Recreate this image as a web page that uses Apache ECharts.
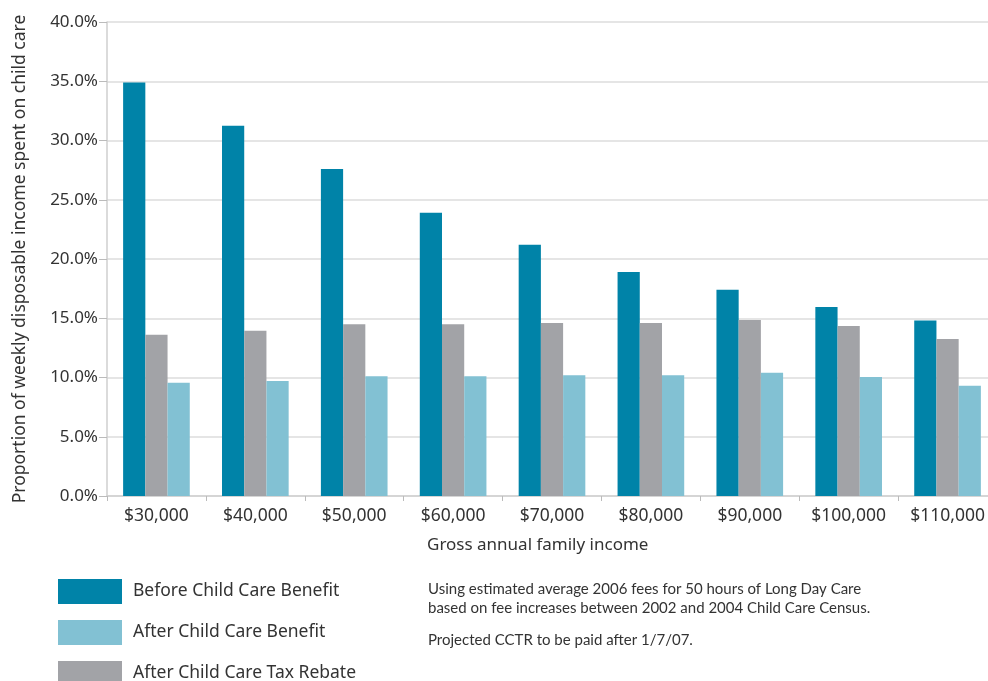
<!DOCTYPE html>
<html>
<head>
<meta charset="utf-8">
<script src="https://cdn.jsdelivr.net/npm/echarts@6/dist/echarts.min.js"></script>
<style>
  html, body { margin: 0; padding: 0; background: #fff; }
  #chart { width: 988px; height: 681px; }
</style>
</head>
<body>
<div id="chart"></div>
<script>
// Gross annual family income bands
var categories = ['$30,000', '$40,000', '$50,000', '$60,000', '$70,000', '$80,000', '$90,000', '$100,000', '$110,000'];

// Share of weekly disposable income spent on child care (%)
var beforeBenefit = [34.9, 31.25, 27.6, 23.9, 21.2, 18.9, 17.4, 15.95, 14.8];
var afterTaxRebate = [13.6, 13.95, 14.5, 14.5, 14.6, 14.6, 14.85, 14.35, 13.25];
var afterBenefit = [9.55, 9.7, 10.1, 10.1, 10.2, 10.2, 10.4, 10.05, 9.3];

var seriesNames = ['Before Child Care Benefit', 'After Child Care Tax Rebate', 'After Child Care Benefit'];
var legendOrder = ['Before Child Care Benefit', 'After Child Care Benefit', 'After Child Care Tax Rebate'];

var notes = [
  'Using estimated average 2006 fees for 50 hours of Long Day Care',
  'based on fee increases between 2002 and 2004 Child Care Census.'
];
var footnote = 'Projected CCTR to be paid after 1/7/07.';

var FONT = '"Noto Sans", sans-serif';
var NOTE_FONT = 'Lato, "Noto Sans", sans-serif';
var TEXT = '#333';

var chart = echarts.init(document.getElementById('chart'));

chart.setOption({
  animation: false,
  color: ['#0083a8', '#a2a3a7', '#82c1d3'],
  textStyle: { fontFamily: FONT },
  // plot area runs a little past the right edge of the canvas
  grid: { left: 107, width: 890, top: 22, height: 474, containLabel: false, outerBoundsMode: 'none' },
  legend: {
    data: legendOrder,
    orient: 'vertical',
    left: 58,
    top: 579,
    height: 160,
    padding: 0,
    itemWidth: 64,
    itemHeight: 25,
    itemGap: 16,
    icon: 'rect',
    textStyle: { fontFamily: FONT, fontSize: 17.5, color: TEXT, padding: [0, 0, 0, 6] }
  },
  xAxis: {
    type: 'category',
    data: categories,
    axisLine: { lineStyle: { color: '#cfcfcf', width: 1.5 } },
    axisTick: { show: true, length: 5, alignWithLabel: false, lineStyle: { color: '#bbb' } },
    axisLabel: { fontFamily: FONT, fontSize: 17.5, color: TEXT, margin: 11 }
  },
  yAxis: {
    type: 'value',
    min: 0,
    max: 40,
    interval: 5,
    name: 'Proportion of weekly disposable income spent on child care',
    nameLocation: 'middle',
    nameGap: 78,
    nameTextStyle: { fontFamily: FONT, fontSize: 17.5, color: TEXT },
    axisLine: { show: true, lineStyle: { color: '#cfcfcf', width: 1.5 } },
    axisTick: { show: true, length: 8, lineStyle: { color: '#bbb' } },
    axisLabel: {
      fontFamily: FONT, fontSize: 17, color: TEXT, margin: 9,
      formatter: function (v) { return v.toFixed(1) + '%'; }
    },
    splitLine: { lineStyle: { color: '#dcdcdc', width: 1.5 } }
  },
  series: [
    { name: seriesNames[0], type: 'bar', data: beforeBenefit, barGap: '0%', barCategoryGap: '32.6%' },
    { name: seriesNames[1], type: 'bar', data: afterTaxRebate },
    { name: seriesNames[2], type: 'bar', data: afterBenefit }
  ],
  graphic: [
    {
      type: 'text', left: 427, top: 537,
      style: { text: 'Gross annual family income', font: '17px ' + FONT, fill: TEXT }
    },
    {
      type: 'text', left: 428, top: 580,
      style: { text: notes.join('\n'), font: '15px ' + NOTE_FONT, fill: TEXT, lineHeight: 19 }
    },
    {
      type: 'text', left: 428, top: 633,
      style: { text: footnote, font: '15px ' + NOTE_FONT, fill: TEXT }
    }
  ]
});
</script>
</body>
</html>
